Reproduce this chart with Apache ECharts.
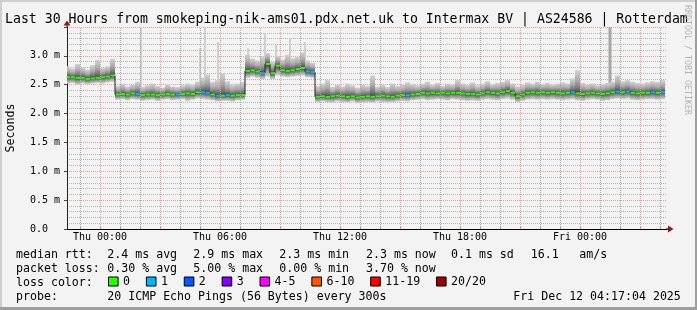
<!DOCTYPE html>
<html><head><meta charset="utf-8">
<script src="https://cdn.jsdelivr.net/npm/echarts@6/dist/echarts.min.js"></script>
<style>html,body{margin:0;padding:0;background:#f3f3f3}#c{width:697px;height:310px}</style>
</head><body><div id="c"></div>
<script>
// ---------- data ----------
const titleText = 'Last 30 Hours from smokeping-nik-ams01.pdx.net.uk to Intermax BV | AS24586 | Rotterdam';
const startHour = -1.625;   // first sample, hours relative to Thu 00:00
const stepHours = 0.25;     // 15 minute samples
const viewStart = -1.65, viewEnd = 28.35;

// median rtt (ms)
const median = [
 2.63,2.63,2.62,2.62,2.60,2.61,2.62,2.63,2.64,2.66,
 2.33,2.34,2.33,2.35,2.34,2.32,2.33,2.33,2.32,2.33,2.34,2.33,2.33,2.34,2.35,2.34,2.37,2.37,2.36,2.33,2.31,2.31,2.32,2.31,2.32,2.32,
 2.74,2.75,2.73,2.70,2.86,2.70,2.83,2.75,2.74,2.75,2.77,2.79,2.73,2.72,
 2.29,2.30,2.29,2.30,2.31,2.30,2.29,2.30,2.28,2.29,
 2.30,2.29,2.30,2.31,2.30,2.29,2.31,2.32,2.32,2.33,
 2.34,2.36,2.35,2.36,2.35,2.36,2.35,2.36,2.36,2.35,
 2.34,2.34,2.33,2.35,2.37,2.36,2.35,2.37,2.39,2.36,
 2.30,2.33,2.36,2.37,2.36,2.37,2.36,2.37,2.36,2.35,
 2.36,2.37,2.35,2.34,2.35,2.36,2.35,2.34,2.35,2.37,
 2.38,2.37,2.38,2.36,2.35,2.36,2.36,2.37,2.36,2.37
];
// lost pings out of 20
const loss = [
 0,0,0,0,0,0,0,0,0,0, 0,0,0,0,1,0,0,0,0,0, 0,0,1,0,0,0,0,1,1,0, 1,0,1,0,0,0,0,0,0,1,
 0,0,0,0,0,0,0,0,1,1, 0,0,0,0,0,0,0,0,0,0, 0,0,0,0,0,0,0,0,1,0, 0,0,0,0,0,0,0,0,0,0,
 0,0,0,0,0,0,0,0,0,0, 0,0,0,0,0,0,0,0,0,0, 0,1,0,0,0,0,0,0,0,0, 1,0,1,0,0,0,0,1,0,1
];
// smoke envelope: fastest and slowest ping (ms)
const smokeMin = [
 2.52,2.53,2.50,2.52,2.51,2.52,2.53,2.52,2.54,2.55,
 2.24,2.25,2.23,2.25,2.24,2.22,2.23,2.24,2.22,2.24,2.25,2.23,2.24,2.25,2.22,2.24,2.26,2.25,2.24,2.23,2.21,2.22,2.22,2.21,2.23,2.24,
 2.62,2.64,2.62,2.60,2.64,2.60,2.66,2.64,2.63,2.64,2.65,2.66,2.63,2.62,
 2.20,2.21,2.20,2.19,2.21,2.20,2.19,2.21,2.18,2.19,
 2.20,2.19,2.21,2.20,2.19,2.20,2.21,2.22,2.21,2.23,
 2.24,2.25,2.23,2.24,2.25,2.24,2.23,2.25,2.24,2.23,
 2.22,2.23,2.22,2.24,2.25,2.24,2.23,2.25,2.26,2.24,
 2.20,2.22,2.24,2.25,2.24,2.25,2.24,2.25,2.24,2.23,
 2.24,2.25,2.23,2.22,2.24,2.25,2.24,2.22,2.23,2.25,
 2.26,2.25,2.26,2.24,2.23,2.24,2.25,2.25,2.24,2.25
];
const smokeMax = [
 2.82,2.78,2.86,2.80,2.76,2.84,2.93,2.79,2.82,2.95,
 2.48,2.52,2.47,2.50,2.55,2.46,2.49,2.52,2.48,2.45,2.50,2.47,2.46,2.49,2.52,2.50,2.55,2.62,2.68,2.55,2.58,2.70,2.56,2.50,2.52,2.55,
 3.02,2.95,2.92,2.98,3.05,2.90,3.00,2.94,3.02,2.96,2.98,3.06,2.92,2.88,
 2.48,2.52,2.58,2.46,2.50,2.47,2.52,2.49,2.45,2.50,
 2.48,2.66,2.47,2.50,2.46,2.52,2.48,2.50,2.54,2.51,
 2.49,2.52,2.55,2.50,2.53,2.48,2.52,2.50,2.58,2.52,
 2.50,2.54,2.49,2.52,2.56,2.51,2.53,2.55,2.58,2.52,
 2.47,2.50,2.54,2.52,2.55,2.51,2.53,2.50,2.52,2.54,
 2.52,2.61,2.75,2.53,2.50,2.52,2.49,2.51,2.53,2.55,
 2.66,2.56,2.58,2.55,2.53,2.52,2.54,2.56,2.55,2.58
];
// single outlier pings (hours from Thu 00:00, ms, number of pings)
const spikeTime  = [2.05, 5.0, 5.25, 5.9, 7.4, 8.25, 8.8, 9.5, 10.25, 25.5];
const spikeTop   = [3.5, 3.13, 3.5, 3.24, 3.13, 3.39, 3.19, 3.31, 3.24, 3.5];
const spikeCount = [1, 1, 1, 1, 1, 1, 1, 1, 1, 4];

const xTickHours  = [0, 6, 12, 18, 24];
const xTickLabels = ['Thu 00:00', 'Thu 06:00', 'Thu 12:00', 'Thu 18:00', 'Fri 00:00'];
const yTickValues = [0, 0.5, 1.0, 1.5, 2.0, 2.5, 3.0, 3.5];
const yTickLabels = ['0.0  ', '0.5 m', '1.0 m', '1.5 m', '2.0 m', '2.5 m', '3.0 m', ''];

const lossClasses = ['0', '1', '2', '3', '4-5', '6-10', '11-19', '20/20'];
const lossColors  = ['#26ff00', '#00b8ff', '#0059ff', '#7e00ff', '#ff00ff', '#ff5500', '#ff0000', '#a10000'];

const rowLabels   = ['median rtt:', 'packet loss:', 'loss color:', 'probe:'];
const medianStats = ['2.4 ms avg', '2.9 ms max', '2.3 ms min', '2.3 ms now', '0.1 ms sd', '16.1', 'am/s'];
const lossStats   = ['0.30 % avg', '5.00 % max', '0.00 % min', '3.70 % now'];
const probeText   = '20 ICMP Echo Pings (56 Bytes) every 300s';
const stampText   = 'Fri Dec 12 04:17:04 2025';
const creditText  = 'RRDTOOL / TOBI OETIKER';

// ---------- build ----------
const FONT = "'DejaVu Sans Mono', monospace";
const half = stepHours / 2;
const times = median.map((_, i) => startHour + i * stepHours);
function lossClass(n) { if (n <= 3) return n; if (n <= 5) return 4; if (n <= 10) return 5; if (n <= 19) return 6; return 7; }

const smokeData = times.map((t, i) => [t, smokeMin[i], smokeMax[i], median[i]]);
const medData = times.map((t, i) => [t, median[i], lossClass(loss[i])]);
const lineData = times.map((t, i) => [t, median[i]]);
const spikeData = spikeTime.map((t, k) => [t, spikeTop[k], spikeCount[k], median[Math.round((t - startHour) / stepHours)]]);

const minorHours = [], majorHours = [];
for (let h = Math.ceil(viewStart); h <= Math.floor(viewEnd); h++) {
  if (h % 3 === 0) majorHours.push(h); else minorHours.push(h);
}

const chart = echarts.init(document.getElementById('c'), null, { renderer: 'canvas', width: 697, height: 310 });

function upperGrad() {
  return new echarts.graphic.LinearGradient(0, 0, 0, 1, [
    { offset: 0, color: '#d2d2d2' }, { offset: 0.45, color: '#ababab' },
    { offset: 0.8, color: '#727272' }, { offset: 1, color: '#3c3c3c' }]);
}
function lowerGrad() {
  return new echarts.graphic.LinearGradient(0, 0, 0, 1, [
    { offset: 0, color: '#3c3c3c' }, { offset: 0.3, color: '#747474' },
    { offset: 0.65, color: '#a8a8a8' }, { offset: 1, color: '#d0d0d0' }]);
}

const xBase = { type: 'value', min: viewStart, max: viewEnd, gridIndex: 0, position: 'bottom' };

const graphics = [];
graphics.push({ type: 'rect', shape: { x: 0, y: 0, width: 697, height: 2 }, style: { fill: '#cfcfcf' }, silent: true });
graphics.push({ type: 'rect', shape: { x: 0, y: 0, width: 2, height: 310 }, style: { fill: '#cfcfcf' }, silent: true });
graphics.push({ type: 'rect', shape: { x: 695, y: 0, width: 2, height: 310 }, style: { fill: '#9e9e9e' }, silent: true });
graphics.push({ type: 'rect', shape: { x: 0, y: 307, width: 697, height: 3 }, style: { fill: '#9e9e9e' }, silent: true });
graphics.push({ type: 'line', shape: { x1: 67, y1: 24, x2: 67, y2: 27.5 }, style: { stroke: '#222', lineWidth: 1 }, silent: true });
graphics.push({ type: 'polygon', shape: { points: [[63.5, 25.5], [70.5, 25.5], [67, 20.5]] }, style: { fill: '#8b1a1a' }, silent: true });
graphics.push({ type: 'line', shape: { x1: 666, y1: 229, x2: 669, y2: 229 }, style: { stroke: '#000', lineWidth: 1 }, silent: true });
graphics.push({ type: 'polygon', shape: { points: [[668, 225.5], [668, 232.5], [673.5, 229]] }, style: { fill: '#8b1a1a' }, silent: true });

function txt(x, y, s, size, extra) {
  return Object.assign({ type: 'text', x: x, y: y, silent: true,
    style: { text: s, font: size + 'px ' + FONT, fill: '#000', textAlign: 'left', textVerticalAlign: 'middle', align: 'left', verticalAlign: 'middle' } }, extra || {});
}
graphics.push(txt(5, 19.5, titleText, 13.2));
const secLabel = txt(11, 128, 'Seconds', 11.6, { rotation: Math.PI / 2 });
secLabel.style.textAlign = 'center'; secLabel.style.align = 'center';
graphics.push(secLabel);
const credit = txt(687.5, 5, creditText, 8.3, { rotation: -Math.PI / 2 });
credit.style.fill = '#b4b4b4';
graphics.push(credit);

const rowY = [254.6, 268.6, 282.6, 296.6];
const colX = [107.3, 193.3, 279.3, 366, 451, 530.7, 579.3];
rowLabels.forEach((s, r) => graphics.push(txt(16, rowY[r], s, 11.6)));
medianStats.forEach((s, k) => graphics.push(txt(colX[k], rowY[0], s, 11.6)));
lossStats.forEach((s, k) => graphics.push(txt(colX[k], rowY[1], s, 11.6)));
graphics.push(txt(colX[0], rowY[3], probeText, 11.6));
graphics.push(txt(513.3, rowY[3], stampText, 11.6));

const legendSeries = lossClasses.map((name, k) => ({
  type: 'line', name: name, data: [], xAxisIndex: 0, yAxisIndex: 0,
  itemStyle: { color: lossColors[k] }, lineStyle: { color: lossColors[k] }
}));

function gridLines(name, hours, color) {
  return {
    type: 'line', name: name, xAxisIndex: 0, yAxisIndex: 0, data: [[viewStart, 0]], symbol: 'none', silent: true, z: 1,
    lineStyle: { opacity: 0 },
    markLine: {
      silent: true, symbol: ['none', 'none'], label: { show: false }, animation: false,
      lineStyle: { color: color, type: [1, 1], width: 1, opacity: 1 },
      emphasis: { disabled: true },
      data: hours.map(h => ({ xAxis: h }))
    }
  };
}

const option = {
  backgroundColor: '#f3f3f3',
  animation: false,
  grid: { left: 67, right: 30, top: 27, bottom: 81, containLabel: false },
  legend: {
    left: 108, top: 275.5, padding: 0, itemWidth: 9.6, itemHeight: 9, itemGap: 15.8,
    icon: 'rect', selectedMode: false, data: lossClasses,
    itemStyle: { borderColor: '#000', borderWidth: 1 },
    textStyle: { fontFamily: FONT, fontSize: 11.6, color: '#000' }
  },
  xAxis: [
    Object.assign({}, xBase, {
      axisLine: { show: true, onZero: false, lineStyle: { color: '#000', width: 1 } },
      axisTick: { show: false },
      splitLine: { show: false },
      axisLabel: { customValues: xTickHours, margin: 3, fontFamily: FONT, fontSize: 10, color: '#000',
        formatter: v => { const k = xTickHours.indexOf(Math.round(v)); return k >= 0 ? xTickLabels[k] : ''; } }
    }),
    Object.assign({}, xBase, {
      axisLine: { show: false, onZero: false },
      axisTick: { show: true, inside: true, length: 2, customValues: minorHours, lineStyle: { color: '#a0a0a0' } },
      axisLabel: { show: false },
      splitLine: { show: false }
    }),
    Object.assign({}, xBase, {
      axisLine: { show: false, onZero: false },
      axisTick: { show: true, inside: true, length: 3, customValues: majorHours, lineStyle: { color: '#e07070' } },
      axisLabel: { show: false },
      splitLine: { show: false }
    })
  ],
  yAxis: {
    type: 'value', min: 0, max: 3.5, interval: 0.5,
    axisLine: { show: true, onZero: false, lineStyle: { color: '#222', width: 1 } },
    axisTick: { show: true, length: 3, lineStyle: { color: '#444' } },
    axisLabel: { margin: 7, fontFamily: FONT, fontSize: 10, color: '#000',
      formatter: v => { const k = yTickValues.findIndex(a => Math.abs(a - v) < 1e-6); return k >= 0 ? yTickLabels[k] : ''; } },
    splitLine: { show: true, lineStyle: { color: '#f09a9a', type: [1, 1], width: 1 } },
    minorTick: { show: false, splitNumber: 5 },
    minorSplitLine: { show: true, lineStyle: { color: '#b4b4b4', type: [1, 1], width: 1 } }
  },
  graphic: { elements: graphics },
  series: [
    gridLines('minorGrid', minorHours, '#a8a8a8'),
    gridLines('majorGrid', majorHours, '#f09a9a'),
    {
      type: 'custom', name: 'spikes', xAxisIndex: 0, yAxisIndex: 0, clip: true, silent: true, z: 2,
      data: spikeData, encode: { x: 0, y: 1 },
      renderItem: (params, api) => {
        const t = api.value(0), top = api.value(1), n = api.value(2), base = api.value(3);
        const p1 = api.coord([t, top]), p0 = api.coord([t, base]);
        const w = n > 1 ? 3 : 2;
        return { type: 'rect', shape: { x: p1[0] - w / 2, y: p1[1], width: w, height: p0[1] - p1[1] },
          style: { fill: n > 1 ? '#a6a6a6' : '#d0d0d0' } };
      }
    },
    {
      type: 'custom', name: 'smoke', xAxisIndex: 0, yAxisIndex: 0, clip: true, silent: true, z: 2,
      data: smokeData, encode: { x: 0, y: [1, 2, 3] },
      renderItem: (params, api) => {
        const t = api.value(0), lo = api.value(1), hi = api.value(2), md = api.value(3);
        const pL = api.coord([t - half, md]), pR = api.coord([t + half, md]);
        const yHi = api.coord([t, hi])[1], yLo = api.coord([t, lo])[1];
        return { type: 'group', children: [
          { type: 'rect', shape: { x: pL[0], y: yHi, width: pR[0] - pL[0], height: pL[1] - yHi }, style: { fill: upperGrad() } },
          { type: 'rect', shape: { x: pL[0], y: pL[1], width: pR[0] - pL[0], height: yLo - pL[1] }, style: { fill: lowerGrad() } }
        ] };
      }
    },
    {
      type: 'line', name: 'median', xAxisIndex: 0, yAxisIndex: 0, data: lineData, step: 'middle',
      symbol: 'none', silent: true, lineStyle: { color: '#202020', width: 1 }, z: 3
    },
    {
      type: 'custom', name: 'medianLoss', xAxisIndex: 0, yAxisIndex: 0, clip: true, silent: true, z: 4,
      data: medData, encode: { x: 0, y: 1 },
      renderItem: (params, api) => {
        const t = api.value(0), md = api.value(1), c = api.value(2);
        const pL = api.coord([t - half, md]), pR = api.coord([t + half, md]);
        return { type: 'rect', shape: { x: pL[0] + 0.5, y: pL[1] - 1, width: pR[0] - pL[0] - 0.5, height: 2 },
          style: { fill: lossColors[c] } };
      }
    }
  ].concat(legendSeries)
};
chart.setOption(option);
</script></body></html>
